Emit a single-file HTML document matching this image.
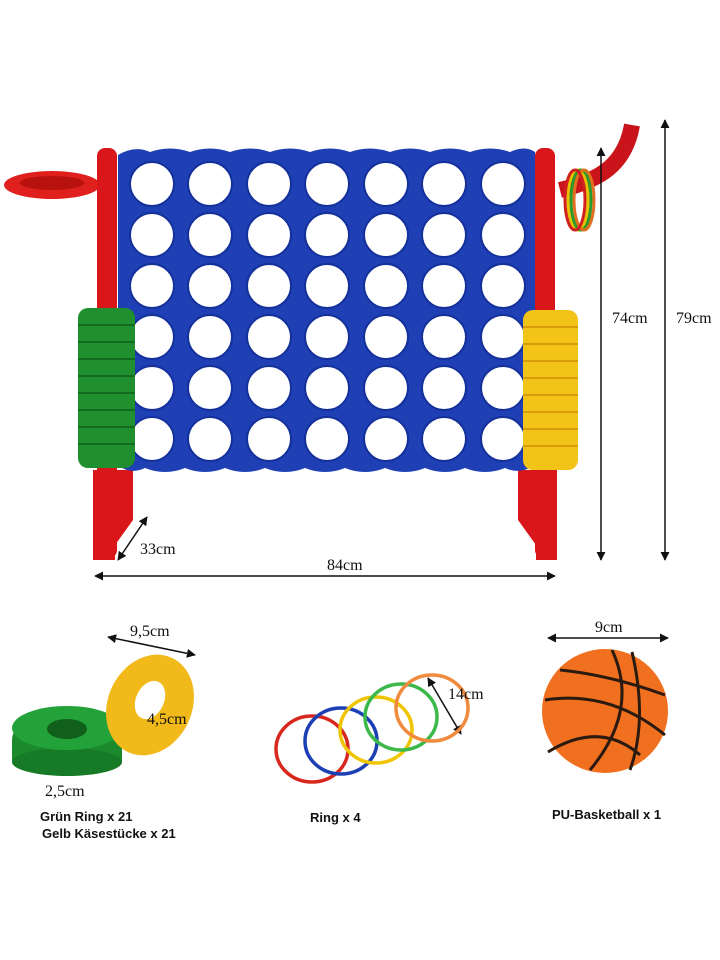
<!DOCTYPE html>
<html><head><meta charset="utf-8"><style>
body{margin:0;background:#fff;width:720px;height:960px;overflow:hidden}
svg{display:block}
.s{font-family:"Liberation Serif",serif;font-size:16px;fill:#111}
.b{font-family:"Liberation Sans",sans-serif;font-size:13px;font-weight:bold;fill:#111}
</style></head><body>
<svg width="720" height="960" viewBox="0 0 720 960">
<defs>
<marker id="a" viewBox="0 0 10 10" refX="9" refY="5" markerWidth="6" markerHeight="6" orient="auto-start-reverse"><path d="M0,0L10,5L0,10z" fill="#111"/></marker>
</defs>
<!-- pipe -->
<path d="M560,190 C600,180 625,165 632,125" stroke="#c8141a" stroke-width="16" fill="none"/>
<!-- left ring holder -->
<ellipse cx="52" cy="185" rx="48" ry="14" fill="#e0201c"/>
<ellipse cx="52" cy="183" rx="32" ry="7" fill="#b8120f"/>
<!-- posts -->
<rect x="97" y="148" width="20" height="410" rx="8" fill="#d9161a"/>
<rect x="535" y="148" width="20" height="410" rx="8" fill="#d9161a"/>
<path d="M93,470 L133,470 L133,520 L115,545 L115,560 L93,560z" fill="#d9161a"/>
<path d="M557,470 L518,470 L518,520 L536,545 L536,560 L557,560z" fill="#d9161a"/>
<!-- board -->
<path d="M118,155 Q135,145 150,152 Q170,145 190,152 Q210,145 230,152 Q250,145 270,152 Q290,145 310,152 Q330,145 350,152 Q370,145 390,152 Q410,145 430,152 Q450,145 470,152 Q490,145 510,152 Q525,145 535,152 L535,465 Q520,475 505,468 Q485,476 465,468 Q445,476 425,468 Q405,476 385,468 Q365,476 345,468 Q325,476 305,468 Q285,476 265,468 Q245,476 225,468 Q205,476 185,468 Q165,476 145,468 Q130,475 118,465z" fill="#1f3fb5"/>
<g fill="#fff" stroke="#14309a" stroke-width="2">
<g id="r">
<circle cx="152" cy="184" r="22"/><circle cx="210" cy="184" r="22"/><circle cx="269" cy="184" r="22"/><circle cx="327" cy="184" r="22"/><circle cx="386" cy="184" r="22"/><circle cx="444" cy="184" r="22"/><circle cx="503" cy="184" r="22"/>
</g>
<use href="#r" y="51"/><use href="#r" y="102"/><use href="#r" y="153"/><use href="#r" y="204"/><use href="#r" y="255"/>
</g>
<!-- stacks -->
<g>
<rect x="78" y="308" width="57" height="160" rx="10" fill="#1f8f2f"/>
<g stroke="#136b20" stroke-width="2"><line x1="78" y1="325" x2="135" y2="325"/><line x1="78" y1="342" x2="135" y2="342"/><line x1="78" y1="359" x2="135" y2="359"/><line x1="78" y1="376" x2="135" y2="376"/><line x1="78" y1="393" x2="135" y2="393"/><line x1="78" y1="410" x2="135" y2="410"/><line x1="78" y1="427" x2="135" y2="427"/><line x1="78" y1="444" x2="135" y2="444"/></g>
<rect x="523" y="310" width="55" height="160" rx="10" fill="#f2c418"/>
<g stroke="#d89c0a" stroke-width="2"><line x1="523" y1="327" x2="578" y2="327"/><line x1="523" y1="344" x2="578" y2="344"/><line x1="523" y1="361" x2="578" y2="361"/><line x1="523" y1="378" x2="578" y2="378"/><line x1="523" y1="395" x2="578" y2="395"/><line x1="523" y1="412" x2="578" y2="412"/><line x1="523" y1="429" x2="578" y2="429"/><line x1="523" y1="446" x2="578" y2="446"/></g>
</g>
<!-- hanging rings -->
<g fill="none" stroke-width="3"><ellipse cx="578" cy="200" rx="10" ry="30" stroke="#e8c000"/><ellipse cx="581" cy="200" rx="10" ry="30" stroke="#2a9a2a"/><ellipse cx="584" cy="200" rx="10" ry="30" stroke="#e07020"/><ellipse cx="575" cy="200" rx="10" ry="30" stroke="#d02020"/></g>
<!-- dimensions -->
<g stroke="#111" stroke-width="1.5" fill="none">
<line x1="601" y1="148" x2="601" y2="560" marker-start="url(#a)" marker-end="url(#a)"/>
<line x1="665" y1="120" x2="665" y2="560" marker-start="url(#a)" marker-end="url(#a)"/>
<line x1="95" y1="576" x2="555" y2="576" marker-start="url(#a)" marker-end="url(#a)"/>
<line x1="118" y1="560" x2="147" y2="517" marker-start="url(#a)" marker-end="url(#a)"/>
<line x1="108" y1="637" x2="195" y2="655" marker-start="url(#a)" marker-end="url(#a)"/>
<line x1="548" y1="638" x2="668" y2="638" marker-start="url(#a)" marker-end="url(#a)"/>
<line x1="135" y1="698" x2="162" y2="703" marker-start="url(#a)" marker-end="url(#a)"/>
<line x1="72" y1="752" x2="72" y2="770" marker-start="url(#a)" marker-end="url(#a)"/>
<line x1="428" y1="678" x2="461" y2="734" marker-start="url(#a)" marker-end="url(#a)"/>
</g>
<text class="s" x="612" y="323">74cm</text>
<text class="s" x="676" y="323">79cm</text>
<text class="s" x="327" y="570">84cm</text>
<text class="s" x="140" y="554">33cm</text>
<!-- pieces -->
<ellipse cx="67" cy="740" rx="55" ry="30" fill="#1a8a2c"/>
<rect x="12" y="740" width="110" height="22" fill="#1a8a2c"/>
<ellipse cx="67" cy="762" rx="55" ry="14" fill="#167a26"/>
<ellipse cx="67" cy="728" rx="55" ry="22" fill="#24a23a"/>
<ellipse cx="67" cy="729" rx="20" ry="10" fill="#10601c"/>
<ellipse cx="150" cy="705" rx="42" ry="52" transform="rotate(25 150 705)" fill="#f2b91a"/>
<ellipse cx="150" cy="700" rx="14" ry="20" transform="rotate(25 150 700)" fill="#fff"/>
<text class="s" x="130" y="636">9,5cm</text>
<text class="s" x="147" y="724">4,5cm</text>
<text class="s" x="45" y="796">2,5cm</text>
<g fill="none" stroke-width="3.5">
<ellipse cx="312" cy="749" rx="36" ry="33" stroke="#d8281e"/>
<ellipse cx="341" cy="741" rx="36" ry="33" stroke="#1d3fb5"/>
<ellipse cx="376" cy="730" rx="36" ry="33" stroke="#efc400"/>
<ellipse cx="401" cy="717" rx="36" ry="33" stroke="#3cb94a"/>
<ellipse cx="432" cy="708" rx="36" ry="33" stroke="#f08a3c"/>
</g>
<text class="s" x="448" y="699">14cm</text>
<ellipse cx="605" cy="711" rx="63" ry="62" fill="#f0701f"/>
<g fill="none" stroke="#2a1a10" stroke-width="3">
<path d="M560,670 Q610,675 665,695"/>
<path d="M545,700 Q610,690 665,735"/>
<path d="M548,752 Q600,720 640,755"/>
<path d="M632,652 Q648,720 630,770"/>
<path d="M590,770 Q640,710 612,650"/>
</g>
<text class="s" x="595" y="632">9cm</text>
<text class="b" x="40" y="821">Grün Ring x 21</text>
<text class="b" x="42" y="838">Gelb Käsestücke x 21</text>
<text class="b" x="310" y="822">Ring x 4</text>
<text class="b" x="552" y="819">PU-Basketball x 1</text>
</svg>
</body></html>
